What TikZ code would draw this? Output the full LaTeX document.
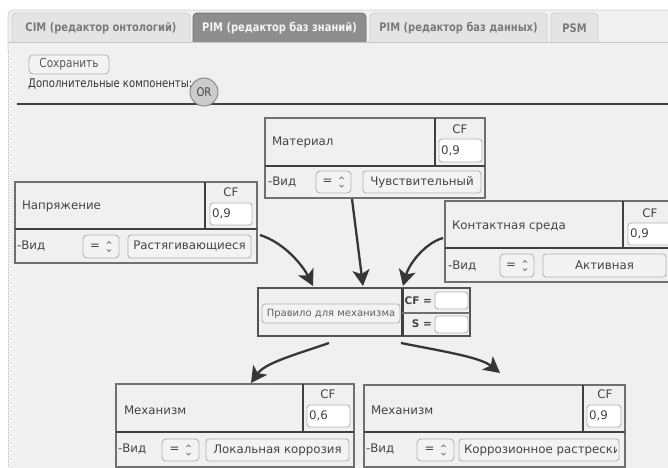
\documentclass[tikz,border=0pt]{standalone}
\usepackage{fontspec}
\setmainfont{DejaVu Sans}
\newfontfamily\narrowfont[FakeStretch=0.84]{DejaVu Sans}
\usetikzlibrary{arrows.meta,calc}

\definecolor{panel}{HTML}{F0F0F0}
\definecolor{framec}{HTML}{CFCFCF}
\definecolor{tabfill}{HTML}{E4E4E4}
\definecolor{tabact}{HTML}{8E8E8E}
\definecolor{tabtxt}{HTML}{7A7A7A}
\definecolor{txt}{HTML}{444444}
\definecolor{boxline}{HTML}{707070}
\definecolor{darkline}{HTML}{404040}
\definecolor{arrowc}{HTML}{363636}
\definecolor{fieldline}{HTML}{B4B4B4}
\definecolor{btnfill}{HTML}{F3F3F3}

\tikzset{
  base/.style={inner sep=0pt, outer sep=0pt, text=txt,
    font=\fontsize{11.8}{14}\selectfont},
  boxframe/.style={draw=boxline, line width=1.4pt, fill=panel,
    inner sep=0pt, outer sep=0pt, anchor=north west},
  divider/.style={draw=darkline, line width=2.6pt},
  cfdivider/.style={draw=darkline, line width=2pt},
  thin divider/.style={draw=boxline, line width=1.4pt},
  fieldframe/.style={draw=fieldline, line width=0.9pt, fill=white, rounded corners=3pt},
  spinframe/.style={draw=fieldline, line width=0.9pt, fill=btnfill, rounded corners=4pt},
  btnframe/.style={draw=fieldline, line width=0.9pt, fill=btnfill, rounded corners=3pt},
  chev/.style={draw=txt!70, line width=0.8pt},
  title/.style={base, anchor=west},
  cflabel/.style={base},
  tabtext/.style={inner sep=0pt, font=\narrowfont\bfseries\fontsize{11.8}{13}\selectfont, text=tabtxt},
  tabshape/.style={draw=framec, line width=0.8pt, fill=tabfill, rounded corners=4pt},
  flow/.style={draw=arrowc, line width=2.3pt,
    -{Stealth[length=16pt, width=17pt, inset=4pt]}},
}

% a spinner control: name, x1, y1, x2, y2
\newcommand\spinbox[5]{%
  \draw[spinframe] (#2,#3) rectangle (#4,#5);
  \node[base] (#1) at ($(#2,#3)!0.5!(#4,#5)+(-6,0)$) {=};
  \coordinate (#1c) at ($(#2,#3)!0.5!(#4,#5)+(8,0)$);
  \draw[chev] ($(#1c)+(-2,-3)$) -- ($(#1c)+(0,-5)$) -- ($(#1c)+(2,-3)$);
  \draw[chev] ($(#1c)+(-2,3)$) -- ($(#1c)+(0,5)$) -- ($(#1c)+(2,3)$);
}
% a value button: name, x1, y1, x2, y2, text
\newcommand\valbutton[6]{%
  \draw[btnframe] (#2,#3) rectangle (#4,#5);
  \node[base] (#1) at ($(#2,#3)!0.5!(#4,#5)$) {#6};
}
% a CF input field: name, x1, y1, x2, y2, text
\newcommand\cffield[6]{%
  \draw[fieldframe] (#2,#3) rectangle (#4,#5);
  \node[base, anchor=west] (#1) at ($(#2,#3)!0.5!(#2,#5)+(2,0)$) {#6};
}

\begin{document}
\begin{tikzpicture}[x=1pt, y=-1pt]
\useasboundingbox (0,0) rectangle (668,467);
\begin{scope}
\clip (0,0) rectangle (668,467);
\fill[white] (0,0) rectangle (668,467);

% outer panel
\draw[framec, line width=0.8pt, fill=panel, rounded corners=5pt] (8,10) rectangle (700,520);
\draw[white, line width=1.2pt] (8,50) -- (8,470);
\draw[framec!80!gray, line width=1pt, densely dotted] (8,50) -- (8,470);

% tabs
\draw[tabshape] (12,42) -- (12,13) -- (190,13) -- (190,42);
\draw[tabshape, fill=tabact, draw=tabact!80!black] (193,42) -- (193,13) -- (366,13) -- (366,42);
\draw[tabshape] (370,42) -- (370,13) -- (547,13) -- (547,42);
\draw[tabshape] (551,42) -- (551,13) -- (598,13) -- (598,42);
\draw[framec!90!gray, line width=0.8pt] (8,42) -- (668,42);
\node[tabtext] (tabcim) at (101,28) {CIM (редактор онтологий)};
\node[tabtext, text=white!92!gray] (tabpimk) at (279.5,28) {PIM (редактор баз знаний)};
\node[tabtext] (tabpimd) at (458.5,28) {PIM (редактор баз данных)};
\node[tabtext] (tabpsm) at (574.5,28) {PSM};

% toolbar
\draw[btnframe, rounded corners=4pt] (29,55) rectangle (109,74);
\node[inner sep=0pt, font=\narrowfont\fontsize{12.5}{14}\selectfont, text=txt!90] (save) at (69,64.5) {Сохранить};
\node[inner sep=0pt, anchor=west, font=\narrowfont\fontsize{12}{14}\selectfont, text=black!80] (extra) at (28,84) {Дополнительные компоненты:};
\draw[darkline, line width=2.4pt] (17,104) -- (668,104);
\node[circle, draw=gray!90, line width=1pt, fill=gray!40, minimum size=28pt, inner sep=0pt,
  font=\narrowfont\fontsize{12}{14}\selectfont, text=txt] (orbtn) at (204,92) {OR};

% ---- Напряжение ----
\node[boxframe, minimum width=242pt, minimum height=81pt] (nap) at (15,182) {};
\draw[cfdivider] (205,182) -- (205,229);
\draw[divider] (15,229) -- (257,229);
\node[title] (napT) at (22,206) {Напряжение};
\node[cflabel] (napCF) at (231,192) {CF};
\cffield{napV}{210}{203}{252}{225}{0,9}
\node[title] (napK) at (17,246) {-Вид};
\spinbox{napS}{83}{235}{119}{258}
\valbutton{napB}{128}{235}{251}{258}{Растягивающиеся}

% ---- Материал ----
\node[boxframe, minimum width=220pt, minimum height=80pt] (mat) at (265,118) {};
\draw[cfdivider] (435,118) -- (435,166);
\draw[divider] (265,166) -- (485,166);
\node[title] (matT) at (272,142) {Материал};
\node[cflabel] (matCF) at (460,129) {CF};
\cffield{matV}{439}{139}{482}{162}{0,9}
\node[title] (matK) at (268,182) {-Вид};
\spinbox{matS}{316}{171}{351}{193}
\valbutton{matB}{363}{171}{481}{193}{Чувствительный}

% ---- Контактная среда ----
\node[boxframe, minimum width=260pt, minimum height=81pt] (kon) at (445,201) {};
\draw[cfdivider] (623,201) -- (623,248);
\draw[divider] (445,248) -- (705,248);
\node[title] (konT) at (452,226) {Контактная среда};
\node[cflabel] (konCF) at (650,213) {CF};
\cffield{konV}{628}{223}{680}{245}{0,9}
\node[title] (konK) at (448,266) {-Вид};
\spinbox{konS}{500}{254}{534}{277}
\valbutton{konB}{543}{254}{666}{277}{Активная}

% ---- Правило для механизма ----
\node[boxframe, draw=darkline!90, line width=2.4pt, minimum width=212pt, minimum height=48pt] (rule) at (258,288) {};
\draw[darkline, line width=3pt] (402,288) -- (402,336);
\draw[thin divider] (402,313) -- (470,313);
\draw[fieldframe, fill=btnfill] (262,304) rectangle (400,323);
\node[base, text=txt!85, font=\fontsize{10}{12}\selectfont] (ruleT) at (331,313.5) {Правило для механизма};
\node[base, anchor=east, font=\bfseries\fontsize{10.5}{12}\selectfont] (ruleCFl) at (432,301) {CF =};
\draw[fieldframe] (435,292) rectangle (468,309);
\node[base, anchor=east, font=\bfseries\fontsize{10.5}{12}\selectfont] (ruleSl) at (432,324) {S =};
\draw[fieldframe] (435,316) rectangle (468,333);

% ---- Механизм (0,6) ----
\node[boxframe, minimum width=238pt, minimum height=83pt] (mechA) at (116,384) {};
\draw[cfdivider] (303,384) -- (303,432);
\draw[divider] (116,432) -- (354,432);
\node[title] (mechAT) at (124,410) {Механизм};
\node[cflabel] (mechACF) at (328,394) {CF};
\cffield{mechAV}{307}{405}{350}{427}{0,6}
\node[title] (mechAK) at (118,449) {-Вид};
\spinbox{mechAS}{162}{439}{199}{461}
\valbutton{mechAB}{206}{439}{349}{461}{Локальная коррозия}

% ---- Механизм (0,9) ----
\node[boxframe, minimum width=261pt, minimum height=82pt] (mechB) at (364,385) {};
\draw[cfdivider] (583,385) -- (583,432);
\draw[divider] (364,432) -- (625,432);
\node[title] (mechBT) at (371,410) {Механизм};
\node[cflabel] (mechBCF) at (605,394) {CF};
\cffield{mechBV}{587}{405}{621}{427}{0,9}
\node[title] (mechBK) at (366,449) {-Вид};
\spinbox{mechBS}{417}{439}{454}{461}
\draw[btnframe] (459,439) rectangle (619,461);
\begin{scope}
  \clip (460,439) rectangle (616,461);
  \node[base, anchor=west] (mechBB) at (464,450) {Коррозионное растрескивание};
\end{scope}

% ---- connectors ----
\draw[flow] ($(nap.south east)+(3,-28)$) .. controls +(25,8) and +(-10,-20) .. ($(rule.north west)+(55,-2)$);
\draw[flow] ($(mat.south)+(-23,1)$) -- ($(rule.north west)+(105,-2)$);
\draw[flow] ($(kon.west)+(-2,-3.5)$) .. controls +(-18,5) and +(6,-22) .. ($(rule.north east)+(-67,-2)$);
\draw[flow] ($(rule.south west)+(71,7)$) .. controls +(-35,12) and +(14,-20) .. ($(mechA.north west)+(135,-1)$);
\draw[flow] ($(rule.south west)+(143,7)$) .. controls +(40,8) and +(-20,-16) .. ($(mechB.north west)+(136,-12)$);
\end{scope}
\end{tikzpicture}
\end{document}
